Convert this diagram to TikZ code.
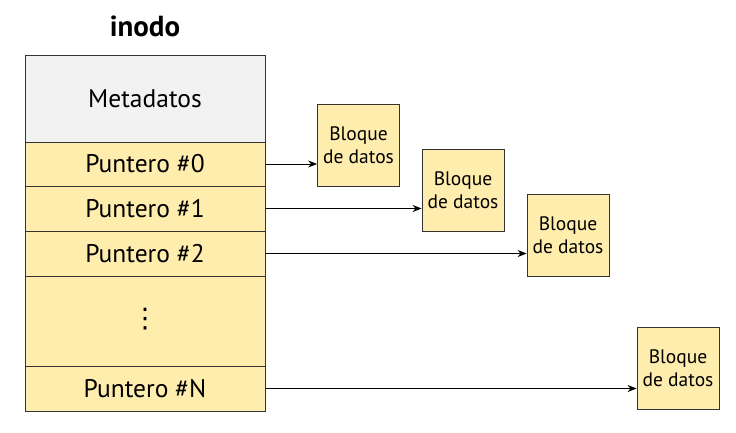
\documentclass[tikz,border=0pt]{standalone}
\usepackage{fontspec}
\setmainfont{PT Sans}
\newfontfamily\symfont{DejaVu Sans}
\usetikzlibrary{arrows.meta}
\definecolor{yel}{HTML}{FFEDAE}
\definecolor{gry}{HTML}{F2F2F2}
\definecolor{edge}{HTML}{333333}
\tikzset{
  row/.style={draw=edge, line width=0.8pt, fill=yel, minimum width=240pt, inner sep=0pt, font=\fontsize{25.5}{28}\selectfont},
  blk/.style={draw=edge, line width=0.8pt, fill=yel, minimum width=82pt, minimum height=82pt, inner sep=0pt, align=center, font=\fontsize{19.5}{23}\selectfont},
  ptr/.style={line width=0.8pt, -{Stealth[length=9pt,width=7pt]}}
}
\begin{document}
\begin{tikzpicture}[x=1pt,y=-1pt]
\useasboundingbox (0,0) rectangle (736,433);
\node[font=\fontsize{29}{32}\selectfont\bfseries] (title) at (145,26) {inodo};
\node[row, fill=gry, minimum height=87pt] (meta) at (145,98.5) {Metadatos};
\node[row, minimum height=44pt] (p0) at (145,164) {Puntero \#0};
\node[row, minimum height=45pt] (p1) at (145,208.5) {Puntero \#1};
\node[row, minimum height=45pt] (p2) at (145,253.5) {Puntero \#2};
\node[row, minimum height=90pt] (dd) at (145,321) {};
\node[font=\fontsize{27}{30}\selectfont\symfont] (dots) at (145,319) {⋮};
\node[row, minimum height=45pt] (pN) at (145,388.5) {Puntero \#N};
\node[blk] (b0) at (358.5,145) {Bloque\\de datos};
\node[blk] (b1) at (463,190) {Bloque\\de datos};
\node[blk] (b2) at (568,235) {Bloque\\de datos};
\node[blk] (b3) at (678,368) {Bloque\\de datos};
\draw[ptr] (p0.east) -- (p0.east -| b0.west);
\draw[ptr] (p1.east) -- (p1.east -| b1.west);
\draw[ptr] (p2.east) -- (p2.east -| b2.west);
\draw[ptr] (pN.east) -- (pN.east -| b3.west);
\end{tikzpicture}
\end{document}
